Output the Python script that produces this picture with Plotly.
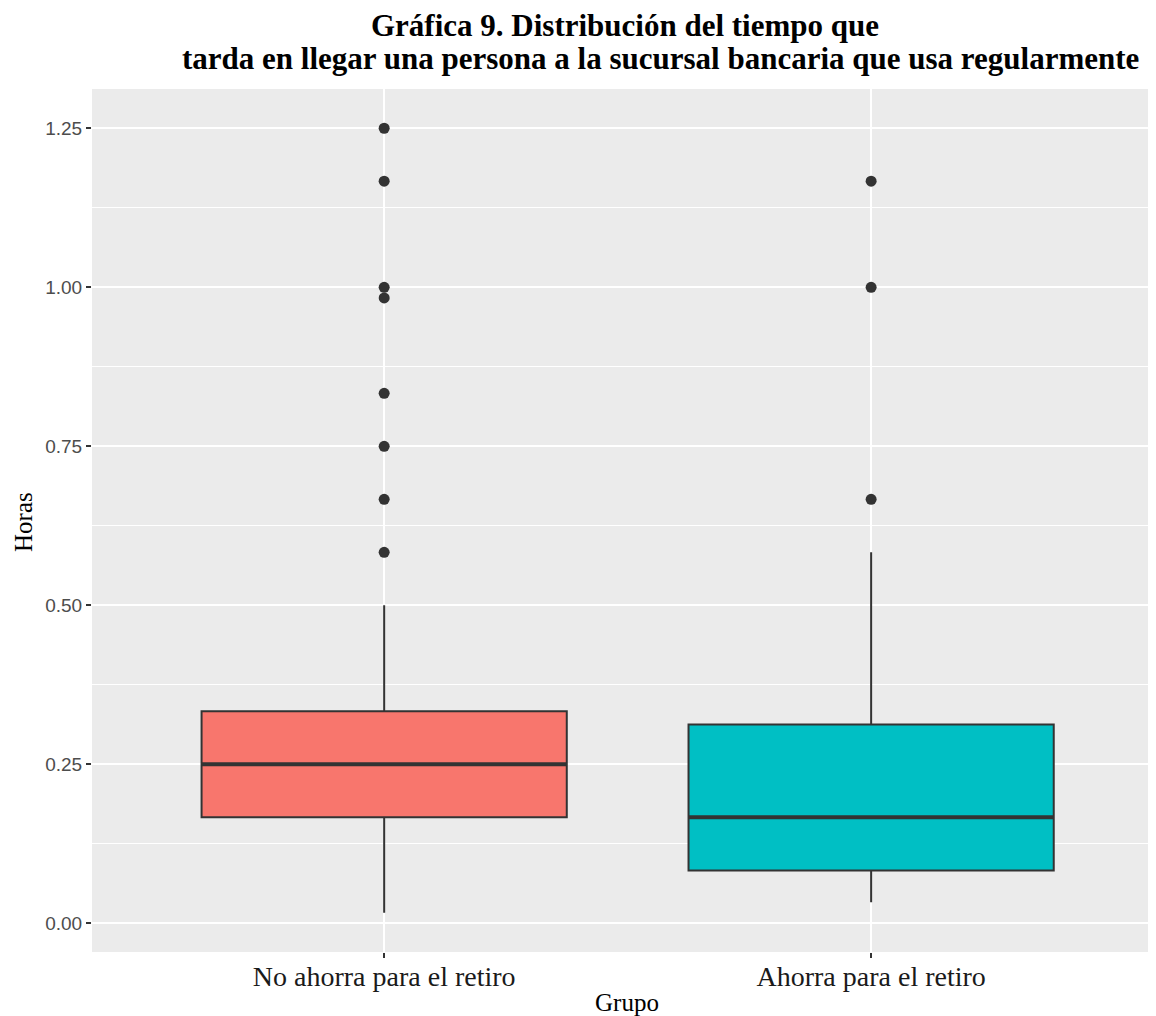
import plotly.graph_objects as go

# ---- data ----
categories = ["No ahorra para el retiro", "Ahorra para el retiro"]
fill_colors = ["#F8766D", "#00BFC4"]
q1 = [0.1667, 0.0833]
median = [0.25, 0.1667]
q3 = [0.3333, 0.3125]
lower_whisker = [0.0167, 0.0333]
upper_whisker = [0.5, 0.5833]
outliers = [
    [0.5833, 0.6667, 0.75, 0.8333, 0.9833, 1.0, 1.1667, 1.25],
    [0.6667, 1.0, 1.1667],
]
y_ticks = [0.0, 0.25, 0.5, 0.75, 1.0, 1.25]
y_tick_labels = ["0.00", "0.25", "0.50", "0.75", "1.00", "1.25"]

BOX_W = 0.75
OFF = 8  # browser body margin
W, H = 1156 - OFF, 1016 - OFF
# desired panel in page pixels: left 92, top 89, bottom 952, right 1156
L, T = 92 - OFF, 89 - OFF
B = H - (952 - OFF)
R = 0

fig = go.Figure()
for i, cat in enumerate(categories):
    fig.add_trace(go.Box(
        x=[i], q1=[q1[i]], median=[median[i]], q3=[q3[i]],
        lowerfence=[lower_whisker[i]], upperfence=[upper_whisker[i]],
        width=BOX_W, fillcolor=fill_colors[i],
        line=dict(color="#333333", width=2),
        boxpoints=False, whiskerwidth=0, showlegend=False, name=cat,
    ))
    # thicker median line (ggplot style)
    fig.add_trace(go.Scatter(
        x=[i - BOX_W / 2, i + BOX_W / 2], y=[median[i], median[i]],
        mode="lines", line=dict(color="#333333", width=4),
        showlegend=False, hoverinfo="skip",
    ))
    fig.add_trace(go.Scatter(
        x=[i] * len(outliers[i]), y=outliers[i], mode="markers",
        marker=dict(color="#333333", size=11),
        showlegend=False,
    ))

plot_h = H - T - B
plot_w = W - L - R

def py(p):  # page pixel y -> paper
    return (H - B - (p - OFF)) / plot_h

def px(p):  # page pixel x -> paper
    return ((p - OFF) - L) / plot_w

serif = "Liberation Serif"
sans = "Liberation Sans"

fig.update_layout(
    width=W, height=H,
    margin=dict(l=L, r=R, t=T, b=B),
    paper_bgcolor="white", plot_bgcolor="#EBEBEB",
    xaxis=dict(
        range=[-0.6, 1.585], tickvals=[0, 1], ticktext=categories,
        showgrid=True, gridcolor="white", gridwidth=2, zeroline=False,
        ticks="outside", ticklen=5, tickwidth=1.5, tickcolor="#333333",
        tickfont=dict(family=serif, size=28, color="#1A1A1A"),
        ticklabelstandoff=-6,
        showline=False,
    ),
    yaxis=dict(
        range=[-0.045, 1.3117], tickvals=y_ticks, ticktext=y_tick_labels,
        showgrid=True, gridcolor="white", gridwidth=2, zeroline=False,
        ticks="outside", ticklen=5, tickwidth=1.5, tickcolor="#333333",
        tickfont=dict(family=sans, size=19, color="#4D4D4D"),
        minor=dict(tickvals=[0.125, 0.375, 0.625, 0.875, 1.125],
                   showgrid=True, gridcolor="white", gridwidth=1, ticks=""),
        showline=False,
    ),
    annotations=[
        dict(text="<b>Gráfica 9. Distribución del tiempo que</b>",
             xref="paper", yref="paper", x=px(625), y=py(25),
             xanchor="center", yanchor="middle", showarrow=False,
             font=dict(family=serif, size=31, color="black")),
        dict(text="<b>tarda en llegar una persona a la sucursal bancaria que usa regularmente</b>",
             xref="paper", yref="paper", x=px(660), y=py(59),
             xanchor="center", yanchor="middle", showarrow=False,
             font=dict(family=serif, size=31, color="black")),
        dict(text="Horas", textangle=-90,
             xref="paper", yref="paper", x=px(23), y=py(522),
             xanchor="center", yanchor="middle", showarrow=False,
             font=dict(family=serif, size=25, color="black")),
        dict(text="Grupo",
             xref="paper", yref="paper", x=px(627), y=py(1002),
             xanchor="center", yanchor="middle", showarrow=False,
             font=dict(family=serif, size=25, color="black")),
    ],
)

fig.write_html("out.html")
